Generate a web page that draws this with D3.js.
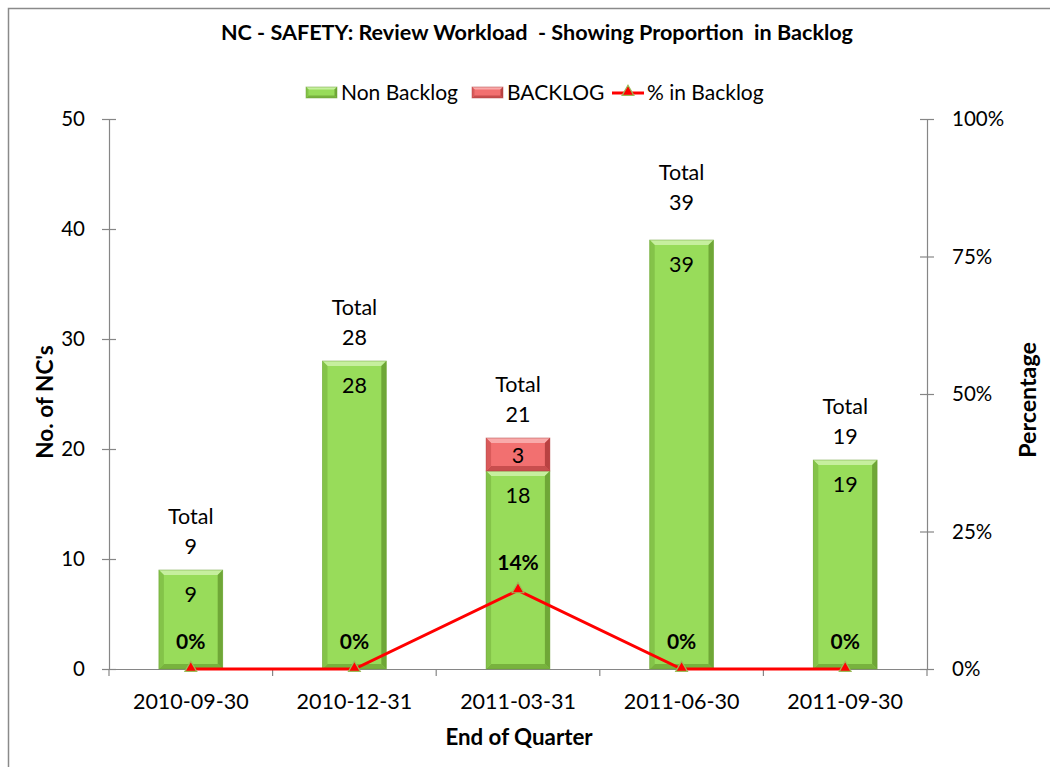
<!DOCTYPE html>
<html>
<head>
<meta charset="utf-8">
<script src="https://cdn.jsdelivr.net/npm/d3@7"></script>
<style>
  html, body { margin: 0; padding: 0; background: #fff; }
  svg { display: block; font-family: Lato, "Open Sans", sans-serif; }
</style>
</head>
<body>
<svg id="chart" width="1050" height="767"></svg>
<script>
const categories = ["2010-09-30", "2010-12-31", "2011-03-31", "2011-06-30", "2011-09-30"];
const nonBacklog = [9, 28, 18, 39, 19];
const backlog = [0, 0, 3, 0, 0];
const pctBacklog = [0, 0, 0.143, 0, 0];
const leftTicks = [0, 10, 20, 30, 40, 50];
const rightTicks = [0, 0.25, 0.5, 0.75, 1];
const seriesNames = ["Non Backlog", "BACKLOG", "% in Backlog"];
const titleText = "NC - SAFETY: Review Workload  - Showing Proportion  in Backlog";

const svg = d3.select("#chart");
const L = 109, R = 927, T = 119, B = 669;
const axisColor = "#868686";

// outer chart border
svg.append("rect").attr("x", 8.5).attr("y", 8.5).attr("width", 1200).attr("height", 900)
  .attr("fill", "none").attr("stroke", "#8a8a8a").attr("stroke-width", 1.5);

const x = d3.scaleBand().domain(categories).range([L, R]).paddingInner(0.61).paddingOuter(0.305);
const y = d3.scaleLinear().domain([0, 50]).range([B, T]);
const y2 = d3.scaleLinear().domain([0, 1]).range([B, T]);

const green = { main: "#98dc5a", top: "#c6ef9e", left: "#84c349", right: "#6fa737", bottom: "#78b23e", edge: "#6a9e35" };
const red = { main: "#f27070", top: "#f9aaaa", left: "#d95a5a", right: "#b94242", bottom: "#c84e4e", edge: "#b04040" };

function bevel(g, x0, y0, x1, y1, c, bw) {
  const b = Math.min(bw, (y1 - y0) / 2, (x1 - x0) / 2);
  const poly = (pts, fill) => g.append("polygon").attr("points", pts.map(p => p.join(",")).join(" ")).attr("fill", fill);
  poly([[x0, y0], [x1, y0], [x1, y1], [x0, y1]], c.main);
  poly([[x0, y0], [x1, y0], [x1 - b, y0 + b], [x0 + b, y0 + b]], c.top);
  poly([[x0, y1], [x1, y1], [x1 - b, y1 - b], [x0 + b, y1 - b]], c.bottom);
  poly([[x0, y0], [x0 + b, y0 + b], [x0 + b, y1 - b], [x0, y1]], c.left);
  poly([[x1, y0], [x1 - b, y0 + b], [x1 - b, y1 - b], [x1, y1]], c.right);
  g.append("rect").attr("x", x0).attr("y", y0).attr("width", x1 - x0).attr("height", y1 - y0)
    .attr("fill", "none").attr("stroke", c.edge).attr("stroke-width", 0.8).attr("stroke-opacity", 0.6);
}

// title
svg.append("text").attr("x", 537).attr("y", 40).attr("text-anchor", "middle")
  .attr("font-size", 21.6).attr("font-weight", "bold").style("white-space", "pre")
  .text(titleText);

// axes
const gl = svg.append("g").attr("transform", `translate(${L},0)`)
  .call(d3.axisLeft(y).tickValues(leftTicks).tickSize(0).tickPadding(24).tickFormat(d3.format("d")));
const gr = svg.append("g").attr("transform", `translate(${R},0)`)
  .call(d3.axisRight(y2).tickValues(rightTicks).tickSize(0).tickPadding(25).tickFormat(d3.format(".0%")));
[gl, gr].forEach(g => {
  g.select(".domain").attr("stroke", axisColor).attr("stroke-width", 1.2);
  g.selectAll(".tick line").remove();
  g.selectAll(".tick").append("line").attr("x1", -7).attr("x2", 7).attr("stroke", axisColor).attr("stroke-width", 1.2);
  g.selectAll(".tick text").attr("font-size", 20.5).attr("fill", "#000").attr("font-family", "Lato, sans-serif");
});

const gx = svg.append("g").attr("transform", `translate(0,${B})`)
  .call(d3.axisBottom(x).tickSize(0).tickPadding(25));
gx.select(".domain").attr("stroke", axisColor).attr("stroke-width", 1.2);
gx.selectAll(".tick text").attr("font-size", 21.5).attr("fill", "#000").attr("font-family", "Lato, sans-serif");
const step = x.step();
const boundaries = d3.range(categories.length + 1).map(i => L + i * step);
gx.selectAll(".bound").data(boundaries).join("line").attr("class", "bound")
  .attr("x1", d => d).attr("x2", d => d).attr("y1", 0).attr("y2", 7)
  .attr("stroke", axisColor).attr("stroke-width", 1.2);

// axis titles
svg.append("text").attr("x", 519).attr("y", 745).attr("text-anchor", "middle")
  .attr("font-size", 22.3).attr("font-weight", "bold").text("End of Quarter");
svg.append("text").attr("transform", "translate(53,402) rotate(-90)").attr("text-anchor", "middle")
  .attr("font-size", 22.6).attr("font-weight", "bold").text("No. of NC's");
svg.append("text").attr("transform", "translate(1036,400) rotate(-90)").attr("text-anchor", "middle")
  .attr("font-size", 23.2).attr("font-weight", "bold").text("Percentage");

// bars
const bars = svg.append("g");
categories.forEach((c, i) => {
  const x0 = x(c), x1 = x(c) + x.bandwidth();
  const g = bars.append("g");
  bevel(g, x0, y(nonBacklog[i]), x1, y(0), green, 5);
  if (backlog[i] > 0) {
    bevel(g, x0, y(nonBacklog[i] + backlog[i]), x1, y(nonBacklog[i]), red, 5);
  }
});

// inside labels
const labels = svg.append("g").attr("font-size", 21.5).attr("text-anchor", "middle");
categories.forEach((c, i) => {
  const cx = x(c) + x.bandwidth() / 2;
  const topG = y(nonBacklog[i]);
  labels.append("text").attr("x", cx).attr("y", topG + 32).text(nonBacklog[i]);
  if (backlog[i] > 0) {
    const t = y(nonBacklog[i] + backlog[i]);
    labels.append("text").attr("x", cx).attr("y", (t + topG) / 2 + 8).text(backlog[i]);
  }
  const total = nonBacklog[i] + backlog[i];
  // the tallest bar's total label sits a little higher in the reference
  const lift = (total === d3.max(nonBacklog.map((v, k) => v + backlog[k]))) ? 14 : 0;
  labels.append("text").attr("x", cx).attr("y", y(total) - 46 - lift).text("Total");
  labels.append("text").attr("x", cx).attr("y", y(total) - 16 - lift).text(total);
});

// line series
const px = (d, i) => x(categories[i]) + x.bandwidth() / 2;
const line = d3.line().x((d, i) => px(d, i)).y(d => y2(d));
svg.append("path").datum(pctBacklog).attr("d", line).attr("fill", "none")
  .attr("stroke", "#ff0000").attr("stroke-width", 3);
const tri = d3.symbol().type(d3.symbolTriangle).size(60);
svg.append("g").selectAll("path").data(pctBacklog).join("path")
  .attr("d", tri).attr("transform", (d, i) => `translate(${px(d, i)},${y2(d) - 1})`)
  .attr("fill", "#ff0000").attr("stroke", "#9bbb59").attr("stroke-width", 1.2);
svg.append("g").attr("font-size", 21).attr("font-weight", "bold").attr("text-anchor", "middle")
  .selectAll("text").data(pctBacklog).join("text")
  .attr("x", (d, i) => px(d, i)).attr("y", d => y2(d) - 20).text(d => d3.format(".0%")(d));

// legend
const lg = svg.append("g").attr("font-size", 21);
bevel(lg, 306, 87, 337, 98, green, 2.5);
lg.append("text").attr("x", 341).attr("y", 100).text(seriesNames[0]);
bevel(lg, 472, 87, 503, 98, red, 2.5);
lg.append("text").attr("x", 507).attr("y", 100).text(seriesNames[1]);
lg.append("line").attr("x1", 612).attr("x2", 644).attr("y1", 93).attr("y2", 93)
  .attr("stroke", "#ff0000").attr("stroke-width", 3);
lg.append("path").attr("d", tri).attr("transform", "translate(628,92)")
  .attr("fill", "#ff0000").attr("stroke", "#9bbb59").attr("stroke-width", 1.2);
lg.append("text").attr("x", 647).attr("y", 100).text(seriesNames[2]);
</script>
</body>
</html>
